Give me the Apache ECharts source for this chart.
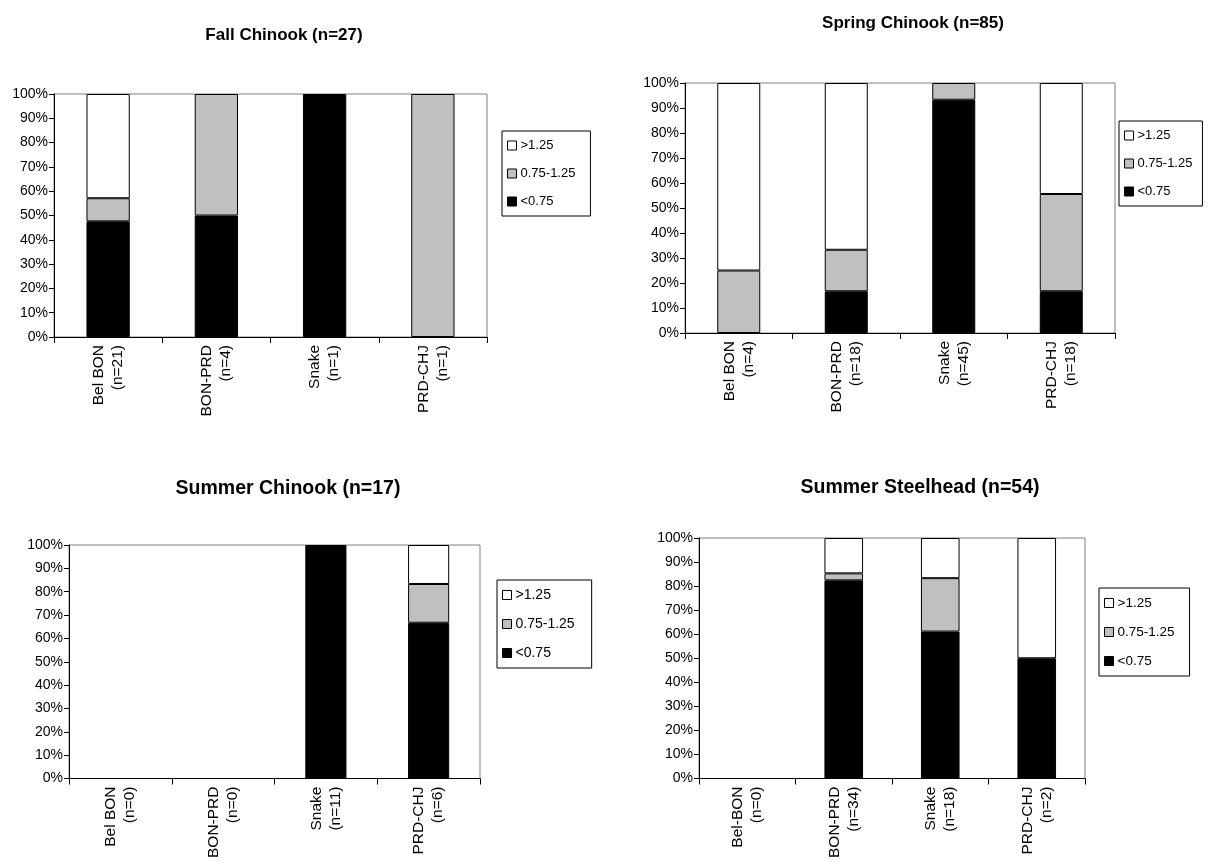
<!DOCTYPE html>
<html>
<head>
<meta charset="utf-8">
<script src="https://cdn.jsdelivr.net/npm/echarts@6/dist/echarts.min.js"></script>
<style>
html,body{margin:0;padding:0;background:#fff;}
#chart{width:1209px;height:861px;}
</style>
</head>
<body>
<div id="chart"></div>
<script>
// ---- Data (percent of fish in each ratio class) ----
const seriesNames = ['>1.25', '0.75-1.25', '<0.75'];

const fallTitle = 'Fall Chinook (n=27)';
const fallCategories = ['Bel BON\n(n=21)', 'BON-PRD\n(n=4)', 'Snake\n(n=1)', 'PRD-CHJ\n(n=1)'];
const fallLow  = [47.6, 50, 100, 0];
const fallMid  = [9.5, 50, 0, 100];
const fallHigh = [42.9, 0, 0, 0];

const springTitle = 'Spring Chinook (n=85)';
const springCategories = ['Bel BON\n(n=4)', 'BON-PRD\n(n=18)', 'Snake\n(n=45)', 'PRD-CHJ\n(n=18)'];
const springLow  = [0, 16.7, 93.3, 16.7];
const springMid  = [25, 16.6, 6.7, 38.9];
const springHigh = [75, 66.7, 0, 44.4];

const summerTitle = 'Summer Chinook (n=17)';
const summerCategories = ['Bel BON\n(n=0)', 'BON-PRD\n(n=0)', 'Snake\n(n=11)', 'PRD-CHJ\n(n=6)'];
const summerLow  = [0, 0, 100, 66.7];
const summerMid  = [0, 0, 0, 16.6];
const summerHigh = [0, 0, 0, 16.7];

const steelTitle = 'Summer Steelhead (n=54)';
const steelCategories = ['Bel-BON\n(n=0)', 'BON-PRD\n(n=34)', 'Snake\n(n=18)', 'PRD-CHJ\n(n=2)'];
const steelLow  = [0, 82.4, 61.1, 50];
const steelMid  = [0, 2.9, 22.2, 0];
const steelHigh = [0, 14.7, 16.7, 50];

const yTicks = { min: 0, max: 100, interval: 10 };

// ---- Layout / style ----
const FONT = 'Liberation Sans, Arial, sans-serif';
const colors = { '<0.75': '#000000', '0.75-1.25': '#c0c0c0', '>1.25': '#ffffff' };

const panels = [
  { title: fallTitle, cats: fallCategories, low: fallLow, mid: fallMid, high: fallHigh,
    grid: { left: 54, top: 94, width: 433, height: 243 }, titleSize: 17, legendSize: 13, legendPadR: 15,
    titlePos: { x: 284, y: 27 }, legendPos: { left: 502, top: 131 } },
  { title: springTitle, cats: springCategories, low: springLow, mid: springMid, high: springHigh,
    grid: { left: 685, top: 83, width: 430, height: 250 }, titleSize: 17, legendSize: 13, legendPadR: 10,
    titlePos: { x: 913, y: 15 }, legendPos: { left: 1119, top: 121 } },
  { title: summerTitle, cats: summerCategories, low: summerLow, mid: summerMid, high: summerHigh,
    grid: { left: 69, top: 545, width: 411, height: 239 }, titleSize: 19.5, legendSize: 14, legendPadR: 17,
    titlePos: { x: 288, y: 479 }, legendPos: { left: 497, top: 580 } },
  { title: steelTitle, cats: steelCategories, low: steelLow, mid: steelMid, high: steelHigh,
    grid: { left: 699, top: 538, width: 386, height: 244 }, titleSize: 19.5, legendSize: 13.5, legendPadR: 15,
    titlePos: { x: 920, y: 478 }, legendPos: { left: 1099, top: 588 } }
];

const nz = arr => arr.map(v => (v === 0 ? '-' : v));

const option = {
  animation: false,
  backgroundColor: '#ffffff',
  textStyle: { fontFamily: FONT, color: '#000' },
  title: [], legend: [], grid: [], xAxis: [], yAxis: [], series: []
};

panels.forEach((p, i) => {
  option.title.push({
    text: p.title, left: p.titlePos.x, top: p.titlePos.y, textAlign: 'center', padding: 0,
    textStyle: { fontFamily: FONT, fontSize: p.titleSize, fontWeight: 'bold', color: '#000' }
  });
  option.grid.push(Object.assign({ show: true, borderColor: '#808080', borderWidth: 1, backgroundColor: 'transparent', containLabel: false }, p.grid));
  option.xAxis.push({
    type: 'category', gridIndex: i, data: p.cats,
    axisLine: { show: true, lineStyle: { color: '#000', width: 1 } },
    axisTick: { show: true, length: 6, interval: 0, lineStyle: { color: '#000' } },
    axisLabel: { rotate: 90, interval: 0, margin: 8, fontSize: 15.5, lineHeight: 19, color: '#000', fontFamily: FONT },
    splitLine: { show: false }
  });
  option.yAxis.push({
    type: 'value', gridIndex: i, min: yTicks.min, max: yTicks.max, interval: yTicks.interval,
    axisLine: { show: true, lineStyle: { color: '#000', width: 1 } },
    axisTick: { show: true, length: 5, lineStyle: { color: '#000' } },
    axisLabel: { formatter: '{value}%', margin: 6, fontSize: 14, color: '#000', fontFamily: FONT },
    splitLine: { show: false }
  });
  const stackData = { '<0.75': p.low, '0.75-1.25': p.mid, '>1.25': p.high };
  ['<0.75', '0.75-1.25', '>1.25'].forEach(name => {
    option.series.push({
      type: 'bar', name: name, xAxisIndex: i, yAxisIndex: i, stack: 'panel' + i,
      data: nz(stackData[name]), barWidth: '40%',
      itemStyle: { color: colors[name], borderColor: '#000', borderWidth: 1 },
      emphasis: { disabled: true }
    });
  });
  option.legend.push({
    data: seriesNames, orient: 'vertical', left: p.legendPos.left, top: p.legendPos.top,
    padding: [8, p.legendPadR, 8, 5], itemGap: 15, itemWidth: 9, itemHeight: 9, icon: 'rect',
    borderColor: '#000', borderWidth: 1, selectedMode: false,
    itemStyle: { borderColor: '#000', borderWidth: 1 },
    textStyle: { fontFamily: FONT, fontSize: p.legendSize, color: '#000', padding: [0, 0, 0, -1] }
  });
});

const chart = echarts.init(document.getElementById('chart'), null, { renderer: 'canvas' });
chart.setOption(option);
</script>
</body>
</html>
